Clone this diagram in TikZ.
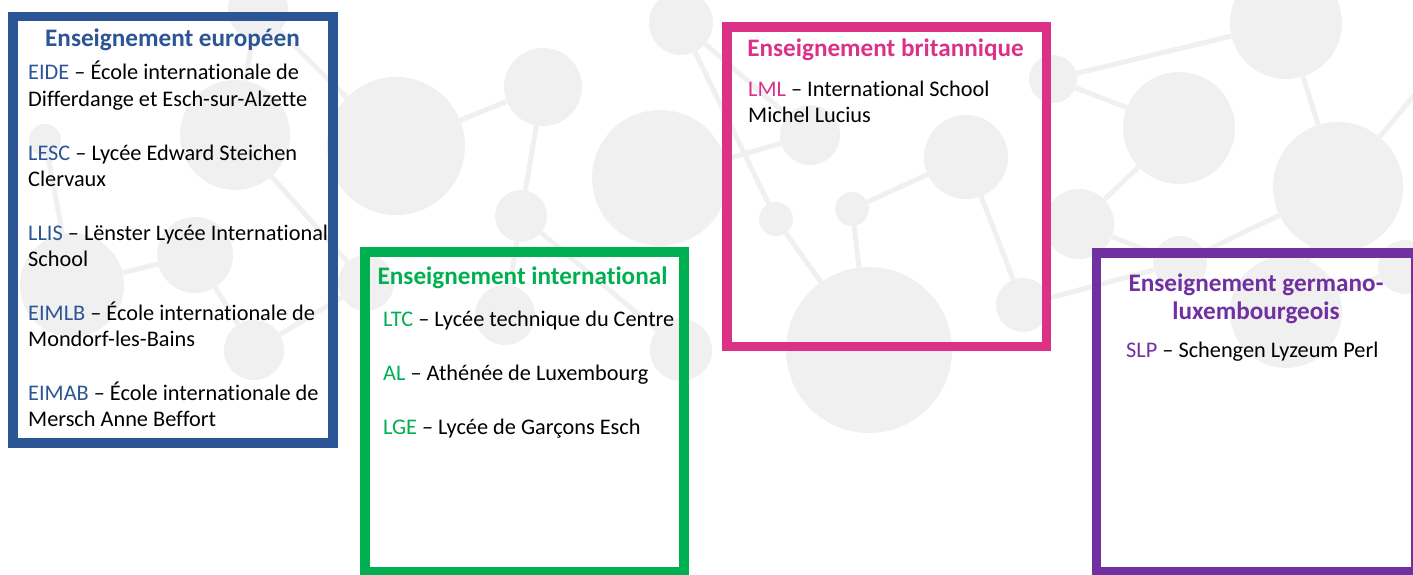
\documentclass[tikz,border=0pt]{standalone}
\usepackage{fontspec}
\setmainfont{Carlito}[Ligatures={TeX,NoCommon}]
\usetikzlibrary{positioning}
\definecolor{eublue}{HTML}{2B5594}
\definecolor{intgreen}{HTML}{00B050}
\definecolor{brpink}{HTML}{DB3187}
\definecolor{gepurple}{HTML}{7030A0}
\definecolor{molgray}{HTML}{F0F0F0}
\newcommand{\entrygap}{\\[27.3pt]}

\begin{document}
\begin{tikzpicture}[x=1pt, y=-1pt, font=\fontsize{22.3}{26.4}\selectfont]
   \tikzstyle{frame}=[rectangle, draw, line width=9.5pt, inner sep=0pt, minimum width=320pt, minimum height=320pt]
   \tikzstyle{heading}=[anchor=base, inner sep=0pt, align=center, font=\fontsize{25.2}{28}\selectfont\bfseries]
   \tikzstyle{entries}=[anchor=base west, inner sep=0pt, align=left]
   \tikzstyle{atom}=[circle, fill=molgray, inner sep=0pt]
   \tikzstyle{bond}=[draw=molgray, line width=5pt]
\useasboundingbox (0,0) rectangle (1413,575);
\clip (0,0) rectangle (1413,575);

% molecules in the background
\foreach \n/\x/\y/\r in {c1/396/146/69, c2/543/87/39, c3/521/216/26, c4/681/23/32,
    c5/660/178/68, c6/810/135/30, c7/966/157/42, c8/776/219/17, c9/852/209/17,
    c10/869/350/83, c11/1023/305/27, c12/1079/224/35, c13/681/350/31,
    c14/1286/23/56, c15/1179/128/56, c16/1338/187/65, c17/1053/79/24,
    c18/1180/263/27, c19/1286/312/56, c20/1405/267/27, c21/235/135/55,
    c22/258/10/30, c23/45/140/16, c24/195/255/38, c25/72/285/52,
    c26/254/350/30, c28/366/283/28, c29/505/315/30, c30/1460/40/30}
  \node[atom, minimum size=2*\r] (\n) at (\x,\y) {};

\path[bond] (c22) -- (c1)  (c22) -- (c21)  (c21) -- (c28)  (c1) -- (c2)
   (c2) -- (c3)  (c3) -- (c29)  (c3) -- (c13)  (c4) -- (c8)  (c4) -- (c6)
   (c6) -- (c5)  (c8) -- (c10)  (c9) -- (c10)  (c9) -- (c7)  (c7) -- (c11)
   (c11) -- (c18)  (c12) -- (c18)  (c17) -- (c14)  (c17) -- (c15)
   (c15) -- (c12)  (c14) -- (c16)  (c16) -- (c18)  (c16) -- (c30)
   (c16) -- (c19)  (c19) -- (c20)  (c24) -- (c25)  (c24) -- (c26)
   (c23) -- (c25)  (c26) -- (c28);

% the four boxes
\node[frame, draw=eublue, minimum height=426.5pt] (europe) at (173,229.75) {};
\node[frame, draw=intgreen, minimum width=319pt] (inter) at (524.5,412) {};
\node[frame, draw=brpink, minimum width=319.5pt, minimum height=319.5pt] (brit) at (886.75,186.75) {};
\node[frame, draw=gepurple, minimum width=319.5pt, minimum height=319pt] (germ) at (1256.25,412.5) {};

% anchor base = last line of each text
\node[heading, text=eublue] (europeT) at (172.5,46.7) {Enseignement européen};
\node[entries] (europeL) at (28,426.7) {%
  \textcolor{eublue}{EIDE} – École internationale de\\ Differdange et Esch-sur-Alzette\entrygap
  \textcolor{eublue}{LESC} – Lycée Edward Steichen\\ Clervaux\entrygap
  \textcolor{eublue}{LLIS} – Lënster Lycée International\\ School\entrygap
  \textcolor{eublue}{EIMLB} – École internationale de\\ Mondorf-les-Bains\entrygap
  \textcolor{eublue}{EIMAB} – École internationale de\\ Mersch Anne Beffort};

\node[heading, text=intgreen] (interT) at (522.5,284) {Enseignement international};
\node[entries] (interL) at (383,434) {%
  \textcolor{intgreen}{LTC} – Lycée technique du Centre\entrygap
  \textcolor{intgreen}{AL} – Athénée de Luxembourg\entrygap
  \textcolor{intgreen}{LGE} – Lycée de Garçons Esch};

\node[heading, text=brpink] (britT) at (885.5,57) {Enseignement britannique};
\node[entries] (britL) at (748,123) {%
  \textcolor{brpink}{LML} – International School\\ Michel Lucius};

\node[heading, text=gepurple] (germT) at (1256,319) {Enseignement germano-\\luxembourgeois};
\node[entries] (germL) at (1126,357.5) {%
  \textcolor{gepurple}{SLP} – Schengen Lyzeum Perl};
\end{tikzpicture}
\end{document}
